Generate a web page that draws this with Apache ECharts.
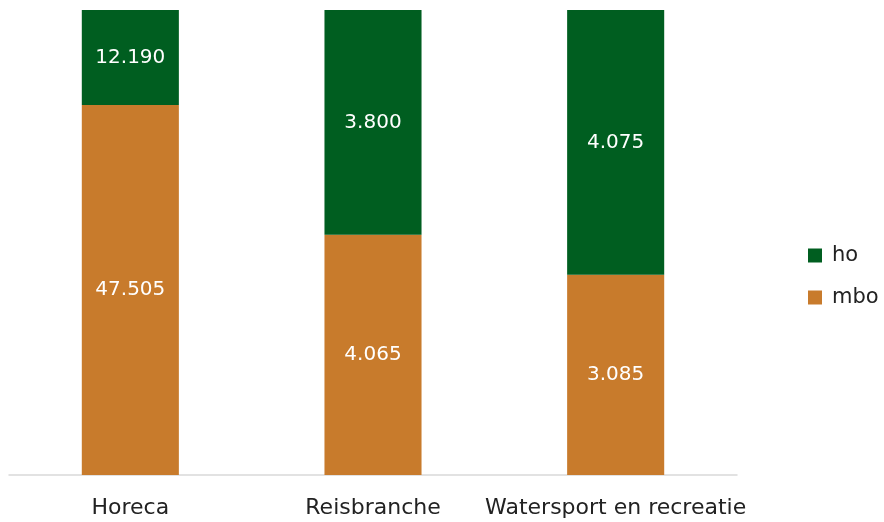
<!DOCTYPE html>
<html>
<head>
<meta charset="utf-8">
<script src="https://cdn.jsdelivr.net/npm/echarts@6/dist/echarts.min.js"></script>
<style>
  html, body { margin: 0; padding: 0; background: #fff; }
  #chart { width: 884px; height: 522px; }
</style>
</head>
<body>
<div id="chart"></div>
<script>
// Branches and workforce counts per education level
const categories = ['Horeca', 'Reisbranche', 'Watersport en recreatie'];
const mboValues = [47505, 4065, 3085];
const hoValues = [12190, 3800, 4075];

// Each bar is stacked to 100% of its branch total
const totals = categories.map((_, i) => mboValues[i] + hoValues[i]);
const share = (arr) => arr.map((v, i) => ({ value: v / totals[i] * 100, raw: v }));

const fmt = (n) => n.toLocaleString('nl-NL');

const FONT = 'DejaVu Sans';

const chart = echarts.init(document.getElementById('chart'));
chart.setOption({
  animation: false,
  textStyle: { fontFamily: FONT },
  grid: { left: 9, right: 147, top: 10, bottom: 47, containLabel: false },
  legend: {
    orient: 'vertical',
    left: 803,
    top: 240,
    itemWidth: 14,
    itemHeight: 14,
    itemGap: 21,
    icon: 'rect',
    data: ['ho', 'mbo'],
    textStyle: { fontSize: 21, color: '#222', fontFamily: FONT, padding: [0, 0, 0, 5] }
  },
  xAxis: {
    type: 'category',
    data: categories,
    axisLine: { lineStyle: { color: '#d9d9d9', width: 1.5 } },
    axisTick: { show: false },
    axisLabel: { interval: 0, fontSize: 22, color: '#222', margin: 22, fontFamily: FONT }
  },
  yAxis: {
    type: 'value',
    min: 0,
    max: 100,
    show: false
  },
  series: [
    {
      name: 'mbo',
      type: 'bar',
      stack: 'total',
      barWidth: '40%',
      itemStyle: { color: '#c87b2c' },
      label: {
        show: true,
        color: '#fff',
        fontSize: 20,
        fontFamily: FONT,
        formatter: (p) => fmt(p.data.raw)
      },
      data: share(mboValues)
    },
    {
      name: 'ho',
      type: 'bar',
      stack: 'total',
      barWidth: '40%',
      itemStyle: { color: '#005e20' },
      label: {
        show: true,
        color: '#fff',
        fontSize: 20,
        fontFamily: FONT,
        formatter: (p) => fmt(p.data.raw)
      },
      data: share(hoValues)
    }
  ]
});
</script>
</body>
</html>
